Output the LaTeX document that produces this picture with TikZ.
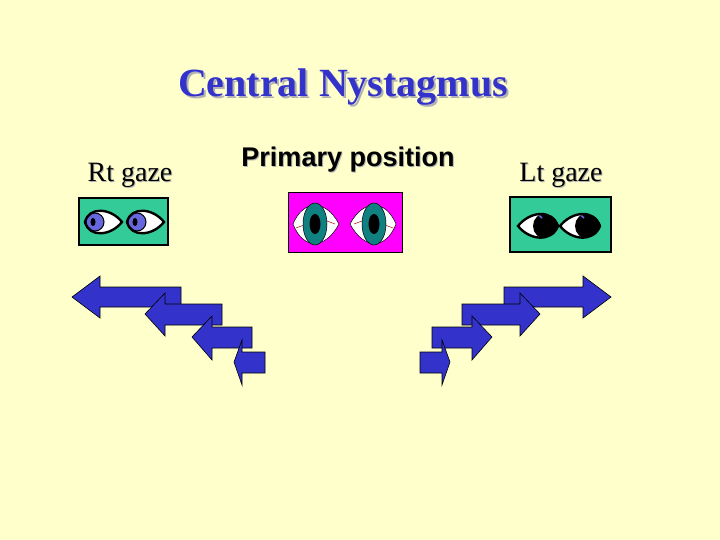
\documentclass[tikz,border=0pt]{standalone}
\usepackage{fontspec}
\setmainfont{Liberation Serif}
\newfontfamily\sansf{Liberation Sans}
\begin{document}
\begin{tikzpicture}[x=1pt,y=-1pt,
  arr/.style={fill=arrblue,draw=black,line width=0.6pt,line join=miter},
  gbox/.style={fill=teal1,draw=black,line width=2.5pt},
  shadowtxt/.style={text=gray!60}]
\definecolor{bg}{HTML}{FFFFCC}
\definecolor{arrblue}{HTML}{3333CC}
\definecolor{teal1}{HTML}{33CC99}
\definecolor{irisb}{HTML}{6666DD}
\definecolor{irist}{HTML}{118080}
\definecolor{mag}{HTML}{FF00FF}
\fill[bg] (0,0) rectangle (720,540);
\useasboundingbox (0,0) rectangle (720,540);
% titles
\node[shadowtxt,font=\bfseries\fontsize{40}{44}\selectfont] at (345,89) {Central Nystagmus};
\node (title)[text=arrblue,font=\bfseries\fontsize{40}{44}\selectfont] at (343,87) {Central Nystagmus};
\node[shadowtxt,font=\fontsize{28}{32}\selectfont] at (131,176) {Rt gaze};
\node (rt)[font=\fontsize{28}{32}\selectfont] at (130,175) {Rt gaze};
\node[shadowtxt,font=\sansf\bfseries\fontsize{27}{30}\selectfont] at (349,161) {Primary position};
\node (pp)[font=\sansf\bfseries\fontsize{27}{30}\selectfont] at (348,160) {Primary position};
\node[shadowtxt,font=\fontsize{28}{32}\selectfont] at (562,176) {Lt gaze};
\node (lt)[font=\fontsize{28}{32}\selectfont] at (561,175) {Lt gaze};
% boxes
\draw[gbox] (79,198) rectangle (168,245);
\fill[mag] (288,192) rectangle (402,252);
\draw[black,line width=0.5pt] (288,192) rectangle (402,252);
\draw[gbox] (510,197) rectangle (611,252);
% Rt gaze eyes
\foreach \cx in {103,145}{
  \begin{scope}
  \clip (\cx+19,222) .. controls (\cx+8,208) and (\cx-14,206) .. (\cx-18,222)
     .. controls (\cx-14,238) and (\cx+8,236) .. cycle;
  \fill[white] (\cx-20,205) rectangle (\cx+20,240);
  \fill[irisb,draw=black,line width=1pt] (\cx-8,222) circle (9);
  \fill[black] (\cx-10,222) ellipse (2.5 and 4);
  \end{scope}
  \draw[black,line width=2.4pt] (\cx+19,222) .. controls (\cx+8,208) and (\cx-14,206) .. (\cx-18,222)
     .. controls (\cx-14,238) and (\cx+8,236) .. cycle;
}
% primary eyes
\foreach \cx/\d in {315/1,374/-1}{
  \draw[fill=white,draw=black,line width=0.5pt] (\cx-22*\d,224) .. controls (\cx-12*\d,200) and (\cx+10*\d,198) .. (\cx+24*\d,224)
     .. controls (\cx+10*\d,250) and (\cx-12*\d,250) .. cycle;
  \draw[red!70!black,line width=0.5pt] (\cx-19*\d,228) -- (\cx-11*\d,225) (\cx+12*\d,221)--(\cx+20*\d,224);
  \fill[irist,draw=black,line width=0.5pt] (\cx,224) ellipse (12 and 21);
  \fill[black] (\cx,224) ellipse (5.5 and 10);
}
% Lt gaze eyes
\foreach \cx in {538,580}{
  \begin{scope}
  \clip (\cx-20,226) .. controls (\cx-8,211) and (\cx+14,209) .. (\cx+20,226)
     .. controls (\cx+14,242) and (\cx-8,241) .. cycle;
  \fill[white] (\cx-22,205) rectangle (\cx+22,245);
  \fill[black] (\cx+8,226) circle (13);
  \draw[irisb,line width=1.6pt] (\cx+4,218) arc[start angle=120,end angle=240,radius=9];
  \end{scope}
  \draw[black,line width=2.4pt] (\cx-20,226) .. controls (\cx-8,211) and (\cx+14,209) .. (\cx+20,226)
     .. controls (\cx+14,242) and (\cx-8,241) .. cycle;
}
% left arrows
\draw[arr] (72,297) -- (100,276) -- (100,287) -- (181,287) -- (181,307) -- (100,307) -- (100,318) -- cycle;
\draw[arr] (145,314) -- (165,293) -- (165,304) -- (222,304) -- (222,325) -- (165,325) -- (165,336) -- cycle;
\draw[arr] (192,337) -- (212,316) -- (212,327) -- (252,327) -- (252,348) -- (212,348) -- (212,360) -- cycle;
\draw[arr] (234,362) -- (242,340) -- (242,352) -- (265,352) -- (265,373) -- (242,373) -- (242,385) -- cycle;
% right arrows
\draw[arr] (611,297) -- (583,276) -- (583,287) -- (504,287) -- (504,307) -- (583,307) -- (583,318) -- cycle;
\draw[arr] (540,314) -- (520,293) -- (520,304) -- (462,304) -- (462,325) -- (520,325) -- (520,336) -- cycle;
\draw[arr] (492,337) -- (472,316) -- (472,327) -- (432,327) -- (432,348) -- (472,348) -- (472,360) -- cycle;
\draw[arr] (450,362) -- (442,340) -- (442,352) -- (420,352) -- (420,373) -- (442,373) -- (442,385) -- cycle;
\end{tikzpicture}
\end{document}
